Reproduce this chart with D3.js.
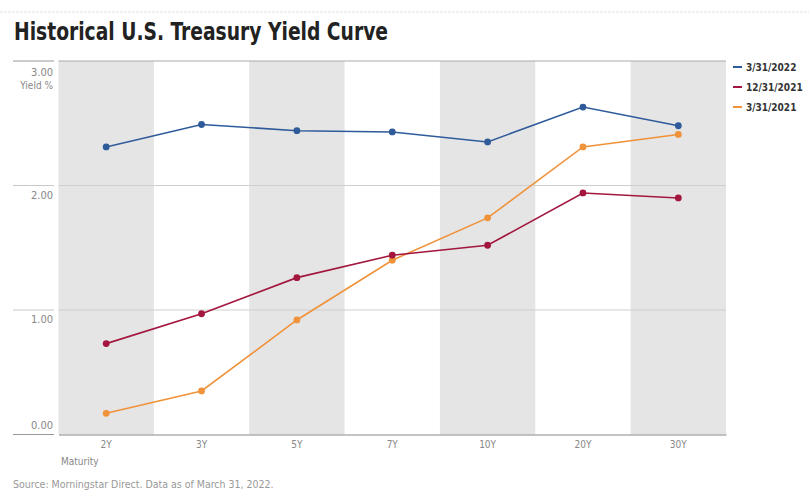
<!DOCTYPE html>
<html>
  <head>
    <title>yield-curve</title>
    <style>
      body { margin: 0; background: #ffffff; }
      text { font-family: "Liberation Sans Narrow", "DejaVu Sans Condensed", sans-serif; }
    </style>
  </head>
  <body>
    <svg width="809" height="492" id="mainsvg"></svg>
    <script src="https://cdn.jsdelivr.net/npm/d3@7"></script>
    <script>
      // data
      const maturities = ["2Y", "3Y", "5Y", "7Y", "10Y", "20Y", "30Y"];
      const seriesNames = ["3/31/2022", "12/31/2021", "3/31/2021"];
      const y2022 = [2.31, 2.49, 2.44, 2.43, 2.35, 2.63, 2.48];
      const y2021Dec = [0.73, 0.97, 1.26, 1.44, 1.52, 1.94, 1.90];
      const y2021Mar = [0.17, 0.35, 0.92, 1.40, 1.74, 2.31, 2.41];
      const yTicks = [0, 1, 2, 3];
      const colors = ["#2f5b9a", "#a3173f", "#f0923a"];

      const series = [y2022, y2021Dec, y2021Mar].map((vals, i) => ({
        name: seriesNames[i],
        color: colors[i],
        values: vals.map((v, j) => ({ m: maturities[j], v: v })),
      }));

      const svg = d3.select("#mainsvg");
      const plot = { left: 58.5, right: 726, top: 61, bottom: 434.5 };

      const xScale = d3.scaleBand().domain(maturities).range([plot.left, plot.right]).padding(0);
      const yScale = d3.scaleLinear().domain([0, 3]).range([plot.bottom, plot.top]);

      // faint rule above the title
      svg.append("line")
        .attr("x1", 0).attr("x2", 809).attr("y1", 12).attr("y2", 12)
        .attr("stroke", "#e2e2e2").attr("stroke-dasharray", "3,1");

      svg.append("text")
        .attr("x", 14).attr("y", 40)
        .attr("font-size", 24).attr("font-weight", "bold")
        .attr("fill", "#222")
        .attr("textLength", 374).attr("lengthAdjust", "spacingAndGlyphs")
        .text("Historical U.S. Treasury Yield Curve");

      // alternating bands
      svg.append("g").selectAll("rect")
        .data(maturities.filter((d, i) => i % 2 === 0))
        .join("rect")
        .attr("x", (d) => xScale(d))
        .attr("y", plot.top)
        .attr("width", xScale.bandwidth())
        .attr("height", plot.bottom - plot.top)
        .attr("fill", "#e5e5e5");

      // gridlines + left stubs
      const grid = svg.append("g");
      grid.selectAll(".gl")
        .data(yTicks.filter((d) => d > 0))
        .join("line")
        .attr("x1", plot.left).attr("x2", plot.right)
        .attr("y1", (d) => yScale(d)).attr("y2", (d) => yScale(d))
        .attr("stroke", (d) => (d === 3 ? "#aaaaaa" : "#cfcfcf"))
        .attr("stroke-width", 1);
      grid.selectAll(".stub")
        .data(yTicks)
        .join("line")
        .attr("x1", 13).attr("x2", 54)
        .attr("y1", (d) => yScale(d)).attr("y2", (d) => yScale(d))
        .attr("stroke", (d) => (d === 0 || d === 3 ? "#999" : "#c8c8c8"));

      // y tick labels
      svg.append("g").selectAll("text")
        .data(yTicks)
        .join("text")
        .attr("x", 53)
        .attr("y", (d) => yScale(d) + (d === 0 ? -6 : d === 3 ? 15 : 13))
        .attr("text-anchor", "end")
        .attr("font-size", 11)
        .attr("fill", "#888")
        .text((d) => d3.format(".2f")(d));
      svg.append("text")
        .attr("x", 53).attr("y", 89)
        .attr("text-anchor", "end")
        .attr("font-size", 10).attr("fill", "#888")
        .text("Yield %");

      // bottom axis
      const xAxis = d3.axisBottom(xScale).tickSize(0).tickPadding(6);
      const xg = svg.append("g").attr("transform", `translate(0, ${plot.bottom})`).call(xAxis);
      xg.select(".domain").attr("stroke", "#888");
      xg.selectAll("text")
        .attr("font-family", "Liberation Sans Narrow, DejaVu Sans Condensed, sans-serif")
        .attr("font-size", 10).attr("fill", "#888");

      svg.append("text")
        .attr("x", 61).attr("y", 465)
        .attr("font-size", 10).attr("fill", "#888")
        .text("Maturity");
      svg.append("text")
        .attr("x", 13).attr("y", 488)
        .attr("font-size", 10.5).attr("fill", "#999")
        .text("Source: Morningstar Direct. Data as of March 31, 2022.");

      // lines and points
      const line = d3.line()
        .x((d) => xScale(d.m) + xScale.bandwidth() / 2)
        .y((d) => yScale(d.v));

      // draw oldest first so 3/31/2022 sits on top
      const order = series.slice().reverse();
      const sg = svg.append("g").selectAll("g").data(order).join("g");
      sg.append("path")
        .attr("d", (d) => line(d.values))
        .attr("fill", "none")
        .attr("stroke", (d) => d.color)
        .attr("stroke-width", 1.6);
      sg.selectAll("circle")
        .data((d) => d.values.map((p) => ({ ...p, color: d.color })))
        .join("circle")
        .attr("cx", (d) => xScale(d.m) + xScale.bandwidth() / 2)
        .attr("cy", (d) => yScale(d.v))
        .attr("r", 3.4)
        .attr("fill", (d) => d.color);

      // legend
      const lg = svg.append("g").selectAll("g")
        .data(series)
        .join("g")
        .attr("transform", (d, i) => `translate(733, ${67 + i * 20})`);
      lg.append("line")
        .attr("x1", 0).attr("x2", 9)
        .attr("stroke", (d) => d.color).attr("stroke-width", 2);
      lg.append("text")
        .attr("x", 13).attr("y", 4)
        .attr("font-size", 10).attr("font-weight", "bold")
        .attr("fill", "#333")
        .text((d) => d.name);
    </script>
  </body>
</html>
